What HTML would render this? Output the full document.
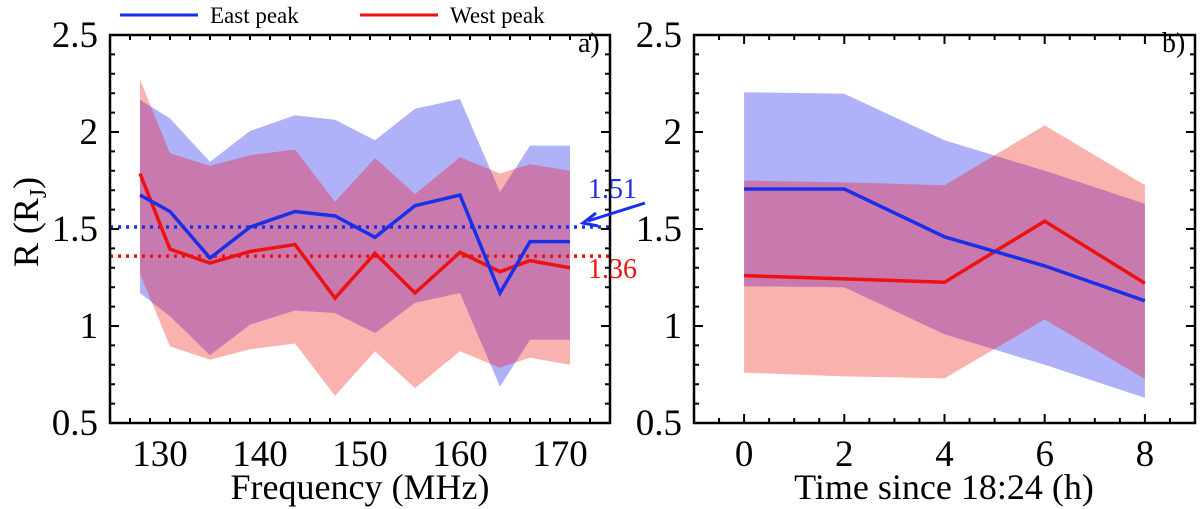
<!DOCTYPE html>
<html><head><meta charset="utf-8"><style>
body{margin:0;background:#fff;}
svg, svg text{font-family:"Liberation Serif","DejaVu Serif","Times New Roman",serif;}
svg{display:block;}
</style></head><body>
<svg id="chart" width="1200" height="509" viewBox="0 0 1200 509" font-family="Liberation Serif, DejaVu Serif, serif">
<g id="legend">
 <line x1="120" y1="15" x2="198" y2="15" stroke="#1a2fe8" stroke-width="3"/>
 <text x="210" y="23" font-size="23">East peak</text>
 <line x1="360" y1="15" x2="438" y2="15" stroke="#ee1111" stroke-width="3"/>
 <text x="450" y="23" font-size="23">West peak</text>
</g>
<g id="pa"></g>
<g id="pb"></g>
<text transform="translate(38,222) rotate(-90)" text-anchor="middle" font-size="36">R (R<tspan font-size="24" dy="8">J</tspan><tspan dy="-8">)</tspan></text>
<text x="360" y="499" text-anchor="middle" font-size="36">Frequency (MHz)</text>
<text x="944" y="499" text-anchor="middle" font-size="36">Time since 18:24 (h)</text>
<text x="578" y="52" font-size="28">a)</text>
<text x="1162" y="52" font-size="28">b)</text>
<text x="588" y="198" font-size="28" fill="#1a2fe8">1.51</text>
<text x="588" y="278" font-size="28" fill="#ee1111">1.36</text>
<line x1="645" y1="203" x2="588" y2="221" stroke="#1a2fe8" stroke-width="3"/>
<polyline points="596,213 583,223 598,226" fill="none" stroke="#1a2fe8" stroke-width="3"/>
</svg>
<script>
// Panel a data
const freq = [128,131,135,139,143.5,147.5,151.5,155.5,160,164,167,171];
const eastA = [1.675,1.59,1.35,1.51,1.59,1.567,1.457,1.62,1.675,1.17,1.435,1.435];
const westA = [1.786,1.396,1.324,1.384,1.42,1.144,1.375,1.17,1.38,1.28,1.337,1.30];
const eastUpA = [2.166,2.07,1.846,2.005,2.086,2.063,1.957,2.12,2.17,1.69,1.93,1.93];
const eastLoA = [1.17,1.05,0.85,1.007,1.08,1.067,0.964,1.12,1.17,0.687,0.93,0.93];
const westUpA = [2.27,1.89,1.825,1.88,1.91,1.64,1.866,1.68,1.87,1.786,1.834,1.80];
const westLoA = [1.27,0.895,0.827,0.88,0.91,0.64,0.87,0.68,0.87,0.785,0.837,0.80];
const meanEast = 1.51, meanWest = 1.36;
const xTicksA = [130,140,150,160,170];
// Panel b data
const hours = [0,2,4,6,8];
const eastB = [1.706,1.706,1.46,1.31,1.13];
const westB = [1.26,1.243,1.226,1.54,1.22];
const eastUpB = [2.205,2.197,1.957,1.80,1.63];
const eastLoB = [1.205,1.20,0.957,0.80,0.63];
const westUpB = [1.75,1.74,1.726,2.034,1.726];
const westLoB = [0.76,0.74,0.73,1.034,0.727];
const xTicksB = [0,2,4,6,8];
const yTicks = [0.5,1,1.5,2,2.5];
const yTickLabels = ["0.5","1","1.5","2","2.5"];

const NS="http://www.w3.org/2000/svg";
function mk(tag,attrs,parent){const e=document.createElementNS(NS,tag);for(const k in attrs)e.setAttribute(k,attrs[k]);parent.appendChild(e);return e;}
const Y0=423,Y1=35;
const yS=v=>Y0-(v-0.5)/2*(Y0-Y1);

function panel(g,id,L,R,xmin,xmax,xMinor,xs,bands,lines,xTicks){
  const xS=v=>L+(v-xmin)/(xmax-xmin)*(R-L);
  const ptsOf=(xv,yv)=>xv.map((x,i)=>xS(x).toFixed(1)+","+yS(yv[i]).toFixed(1));
  const poly=(up,lo)=>ptsOf(xs,up).concat(ptsOf(xs,lo).reverse()).join(" ");
  const defs=mk('defs',{},g);
  const cp=mk('clipPath',{id:'clip'+id},defs);
  mk('polygon',{points:poly(bands.wu,bands.wl)},cp);
  let p=mk('polygon',{points:poly(bands.wu,bands.wl),fill:'#f9b2ae'},g);
  
  
  p=mk('polygon',{points:poly(bands.eu,bands.el),fill:'#afb2f8'},g);
  
  
  p=mk('polygon',{points:poly(bands.eu,bands.el),fill:'#c87aae','clip-path':'url(#clip'+id+')'},g);
  
  
  if(lines.means){
    let d=mk('line',{x1:L,x2:R,y1:yS(meanEast),y2:yS(meanEast),stroke:'#1a2fe8','stroke-width':3.5,'stroke-dasharray':'3,5'},g);
    
    
    d=mk('line',{x1:L,x2:R,y1:yS(meanWest),y2:yS(meanWest),stroke:'#ee1111','stroke-width':3.5,'stroke-dasharray':'3,5'},g);
    
    
  }
  let l=mk('polyline',{points:ptsOf(xs,lines.w).join(" "),fill:'none',stroke:'#ee1111','stroke-width':3.5},g);
  
  
  l=mk('polyline',{points:ptsOf(xs,lines.e).join(" "),fill:'none',stroke:'#1a2fe8','stroke-width':3.5},g);
  
  
  const fr=mk('rect',{x:L,y:Y1,width:R-L,height:Y0-Y1,fill:'none',stroke:'#000','stroke-width':2.5},g);
  
  
  let ticks="";
  for(let v=0.5;v<=2.5001;v+=0.1){const y=yS(v);const maj=Math.abs(v*2-Math.round(v*2))<1e-6;const len=maj?9:5;
    ticks+=`M${L},${y}h${len}M${R},${y}h${-len}`;}
  for(let v=xmin;v<=xmax+1e-6;v+=xMinor){const x=xS(v);const maj=xTicks.some(t=>Math.abs(t-v)<1e-6);const len=maj?9:5;
    ticks+=`M${x},${Y0}v${-len}M${x},${Y1}v${len}`;}
  const tk=mk('path',{d:ticks,stroke:'#000','stroke-width':2,fill:'none'},g);
  
  
  xTicks.forEach(t=>{const e=mk('text',{x:xS(t),y:466,'text-anchor':'middle','font-size':37},g);e.textContent=String(t);
    
    });
  yTicks.forEach((t,i)=>{const e=mk('text',{x:L-12,y:yS(t)+12,'text-anchor':'end','font-size':37},g);e.textContent=yTickLabels[i];
    
    });
}
panel(document.getElementById('pa'),'a',110,610,125,175,2,freq,
  {eu:eastUpA,el:eastLoA,wu:westUpA,wl:westLoA},{e:eastA,w:westA,means:true},xTicksA);
panel(document.getElementById('pb'),'b',694,1195,-1,9,0.5,hours,
  {eu:eastUpB,el:eastLoB,wu:westUpB,wl:westLoB},{e:eastB,w:westB,means:false},xTicksB);
</script>
</body></html>
